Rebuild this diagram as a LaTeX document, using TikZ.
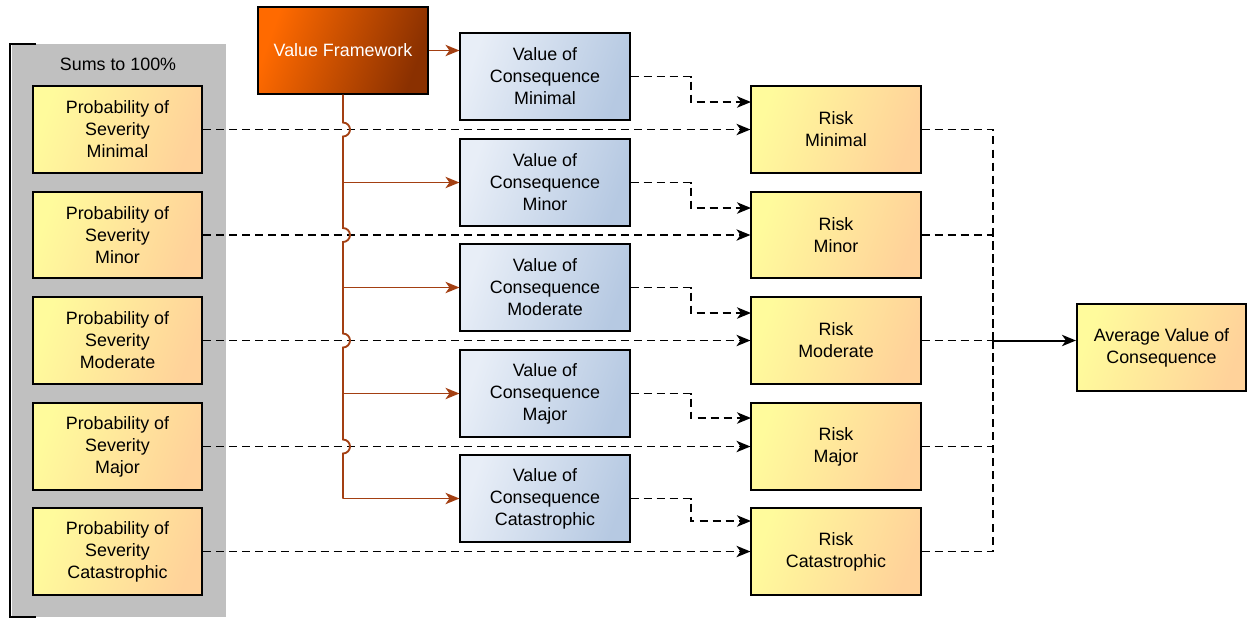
\documentclass[tikz,border=0pt]{standalone}
\usepackage{fontspec}
\setmainfont{Liberation Sans}
\usetikzlibrary{arrows.meta,calc}
\definecolor{yelL}{HTML}{FFFB9C}
\definecolor{yelR}{HTML}{FFD29A}
\definecolor{bluL}{HTML}{E8EEF7}
\definecolor{bluR}{HTML}{B6C9E2}
\definecolor{vfL}{HTML}{FF6A00}
\definecolor{vfR}{HTML}{8A3000}
\definecolor{orl}{HTML}{A33F12}
\definecolor{grp}{HTML}{C0C0C0}
\tikzset{
  box/.style={draw=black, line width=1.3pt, minimum width=127pt, minimum height=65pt,
    align=center, inner sep=0pt, font=\fontsize{13.4}{16.5}\selectfont},
  yelbox/.style={box, left color=yelL, right color=yelR, shading angle=70},
  blubox/.style={box, left color=bluL, right color=bluR, shading angle=70},
  vfbox/.style={box, left color=vfL, right color=vfR, shading angle=70, text=white},
  dashline/.style={draw=black, line width=1.4pt, dash pattern=on 6pt off 3.8pt},
  tip/.style={-{Stealth[length=10.5pt,width=8.5pt,inset=3pt]}},
  orline/.style={draw=orl, line width=1.4pt},
}
\begin{document}
\begin{tikzpicture}[x=0.75pt,y=0.75pt]
\useasboundingbox (0,0) rectangle (1247,-619);
% group
\fill[grp] (12,-44) rectangle (226,-617);
\draw[line width=1.4pt] (36,-44) -- (10,-44) -- (10,-617) -- (36,-617);
\node[font=\fontsize{13.4}{15}\selectfont] (sums) at (118,-64) {Sums to 100\%};
% probability boxes
\node[yelbox] (p1) at (117.5,-129.5) {Probability of\\Severity\\Minimal};
\node[yelbox] (p2) at (117.5,-235) {Probability of\\Severity\\Minor};
\node[yelbox] (p3) at (117.5,-340.5) {Probability of\\Severity\\Moderate};
\node[yelbox] (p4) at (117.5,-446.5) {Probability of\\Severity\\Major};
\node[yelbox] (p5) at (117.5,-551.5) {Probability of\\Severity\\Catastrophic};
% value framework
\node[vfbox] (vf) at (343,-50.5) {Value Framework};
% value of consequence
\node[blubox] (v1) at (545,-76.5) {Value of\\Consequence\\Minimal};
\node[blubox] (v2) at (545,-182.5) {Value of\\Consequence\\Minor};
\node[blubox] (v3) at (545,-287.5) {Value of\\Consequence\\Moderate};
\node[blubox] (v4) at (545,-393.5) {Value of\\Consequence\\Major};
\node[blubox] (v5) at (545,-498.5) {Value of\\Consequence\\Catastrophic};
% risk
\node[yelbox] (r1) at (836,-129.5) {Risk\\Minimal};
\node[yelbox] (r2) at (836,-235) {Risk\\Minor};
\node[yelbox] (r3) at (836,-340.5) {Risk\\Moderate};
\node[yelbox] (r4) at (836,-446.5) {Risk\\Major};
\node[yelbox] (r5) at (836,-551.5) {Risk\\Catastrophic};
% average
\node[yelbox] (avg) at (1161.5,-347.5) {Average Value of\\Consequence};
% entry coordinates on risk boxes
\coordinate (r1in) at (751,-102);
\coordinate (r2in) at (751,-208);
\coordinate (r3in) at (751,-313);
\coordinate (r4in) at (751,-418);
\coordinate (r5in) at (751,-521);
\coordinate (bus) at (993,-340.5);
% probability -> risk
\foreach \i in {1,...,5} {
  \draw[dashline,tip] (p\i.east) -- (r\i.west);
}
% value -> risk
\foreach \i in {1,...,5} {
  \draw[dashline,tip] (v\i.east) -| ($(v\i.east)!0.5!(r\i in)$) |- (r\i in);
}
% risk -> bus
\foreach \i in {1,...,5} {
  \draw[dashline] (r\i.east) -| (bus);
}
\draw[line width=1.5pt,tip] (bus) -- (avg.west |- bus);
% orange connectors
\draw[orline,tip] (vf.east) -- (v1.west |- vf.east);
\draw[orline] (vf.south)
  -- ($(vf.south |- p1.east)+(0,7)$) arc[start angle=90,end angle=-90,radius=5.25pt]
  -- ($(vf.south |- p2.east)+(0,7)$) arc[start angle=90,end angle=-90,radius=5.25pt]
  -- ($(vf.south |- p3.east)+(0,7)$) arc[start angle=90,end angle=-90,radius=5.25pt]
  -- ($(vf.south |- p4.east)+(0,7)$) arc[start angle=90,end angle=-90,radius=5.25pt]
  -- (vf.south |- v5.west);
\foreach \i in {2,...,5} {
  \draw[orline,tip] (vf.south |- v\i.west) -- (v\i.west);
}
\end{tikzpicture}
\end{document}
